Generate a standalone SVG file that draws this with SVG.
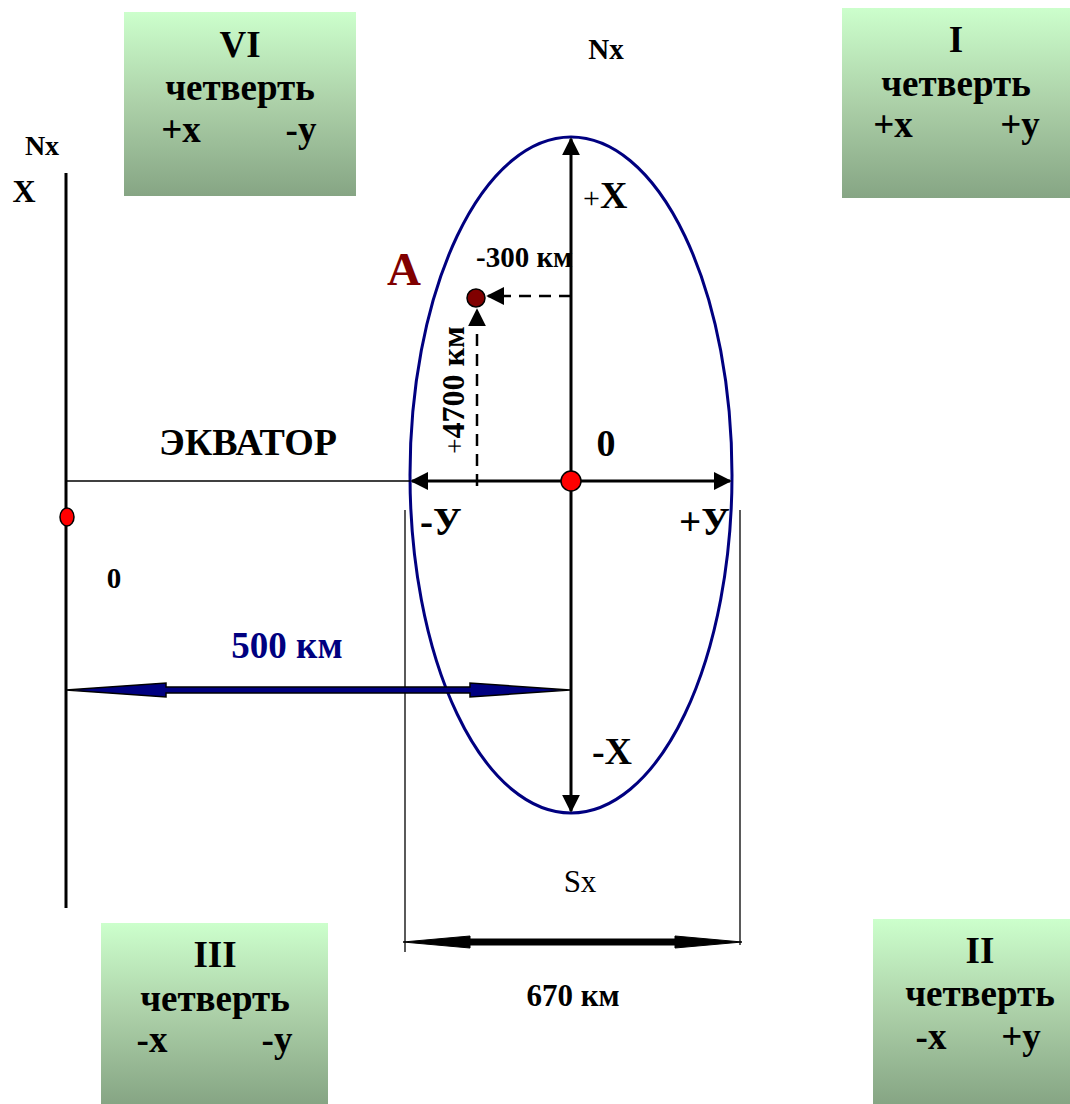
<svg xmlns="http://www.w3.org/2000/svg" width="1070" height="1104" viewBox="0 0 1070 1104">
<defs>
<linearGradient id="g" x1="0" y1="0" x2="0" y2="1">
<stop offset="0" stop-color="#ccffcc"/>
<stop offset="0.5" stop-color="#acd0a8"/>
<stop offset="1" stop-color="#86a584"/>
</linearGradient>
<marker id="ahb" viewBox="0 0 10 10" refX="9" refY="5" markerWidth="18" markerHeight="18" markerUnits="userSpaceOnUse" orient="auto-start-reverse">
<path d="M0,0 L10,5 L0,10 z" fill="#000"/>
</marker>
</defs>
<style>
text{font-weight:bold;fill:#000}
.box{fill:url(#g)}
.q{font-size:37px;text-anchor:middle}
.ax{stroke:#000;stroke-width:3;fill:none}
.thin{stroke:#000;stroke-width:1.3;fill:none}
.dash{stroke:#000;stroke-width:2.5;stroke-dasharray:12,8;fill:none}
</style>
<g font-family="Liberation Serif, DejaVu Serif, serif">
<g id="q6">
<rect class="box" x="124" y="12" width="232" height="184"/>
<text class="q" x="240" y="57">VI</text>
<text class="q" x="240" y="100">четверть</text>
<text class="q" x="181" y="142">+x</text>
<text class="q" x="301" y="142">-у</text>
</g>
<g id="q1">
<rect class="box" x="842" y="8" width="228" height="190"/>
<text class="q" x="956" y="52">I</text>
<text class="q" x="956" y="96">четверть</text>
<text class="q" x="893" y="137">+x</text>
<text class="q" x="1020" y="137">+у</text>
</g>
<g id="q3">
<rect class="box" x="101" y="923" width="227" height="181"/>
<text class="q" x="215" y="967">III</text>
<text class="q" x="215" y="1011">четверть</text>
<text class="q" x="152" y="1052">-x</text>
<text class="q" x="277" y="1052">-у</text>
</g>
<g id="q2">
<rect class="box" x="873" y="919" width="197" height="185"/>
<text class="q" x="980" y="963">II</text>
<text class="q" x="980" y="1006">четверть</text>
<text class="q" x="931" y="1049">-x</text>
<text class="q" x="1021" y="1049">+у</text>
</g>

<g id="ellipse">
<ellipse cx="571" cy="475" rx="161" ry="338" fill="none" stroke="#000080" stroke-width="3"/>
</g>

<g id="connectors">
<line class="ax" x1="66" y1="173" x2="66" y2="908"/>
<line class="thin" x1="66" y1="481" x2="410" y2="481"/>
<line class="ax" x1="571" y1="481" x2="571" y2="139" marker-end="url(#ahb)"/>
<line class="ax" x1="571" y1="481" x2="571" y2="811" marker-end="url(#ahb)"/>
<line class="ax" x1="571" y1="481" x2="412" y2="481" marker-end="url(#ahb)"/>
<line class="ax" x1="571" y1="481" x2="730" y2="481" marker-end="url(#ahb)"/>
<line class="thin" x1="405" y1="510" x2="405" y2="952"/>
<line class="thin" x1="740" y1="510" x2="740" y2="945"/>
<line class="dash" x1="571" y1="296" x2="488" y2="296" marker-end="url(#ahb)"/>
<line class="dash" x1="477" y1="486" x2="477" y2="310" marker-end="url(#ahb)"/>
<path d="M66,690 L166,683 L166,687 L470,687 L470,683 L570,690 L470,697 L470,693 L166,693 L166,697 Z" fill="#000080" stroke="#000" stroke-width="1.5"/>
<path d="M403,942 L470,936 L470,939 L675,939 L675,936 L742,942 L675,948 L675,945 L470,945 L470,948 Z" fill="#000" stroke="#000" stroke-width="1"/>
</g>

<g id="points">
<circle cx="571" cy="481" r="10" fill="#ff0000" stroke="#000" stroke-width="1.5"/>
<ellipse cx="67" cy="517" rx="7" ry="9" fill="#ff0000" stroke="#000" stroke-width="1.5"/>
<circle cx="476" cy="298" r="9" fill="#800000" stroke="#000" stroke-width="1.5"/>
</g>

<g id="labels">
<text x="606" y="59" font-size="29" text-anchor="middle">Nx</text>
<text x="42" y="155" font-size="28" text-anchor="middle">Nx</text>
<text x="24" y="202" font-size="32" text-anchor="middle">X</text>
<text x="583" y="208" font-size="38"><tspan font-weight="normal" font-size="30">+</tspan>X</text>
<text x="476" y="267" font-size="29">-300 км</text>
<text x="387" y="285" font-size="47" style="fill:#800000">A</text>
<text transform="translate(464,390) rotate(-90)" font-size="32" text-anchor="middle"><tspan font-weight="normal" font-size="27">+</tspan>4700 км</text>
<text x="248" y="455" font-size="38" text-anchor="middle">ЭКВАТОР</text>
<text x="606" y="456" font-size="38" text-anchor="middle">0</text>
<text x="420" y="535" font-size="39">-У</text>
<text x="679" y="535" font-size="39">+У</text>
<text x="114" y="588" font-size="29" text-anchor="middle">0</text>
<text x="287" y="658" font-size="37" text-anchor="middle" style="fill:#000080">500 км</text>
<text x="612" y="764" font-size="38" text-anchor="middle">-X</text>
<text x="580" y="892" font-size="31" text-anchor="middle" style="font-weight:normal">Sx</text>
<text x="573" y="1006" font-size="31" text-anchor="middle">670 км</text>
</g>
</g>
</svg>
